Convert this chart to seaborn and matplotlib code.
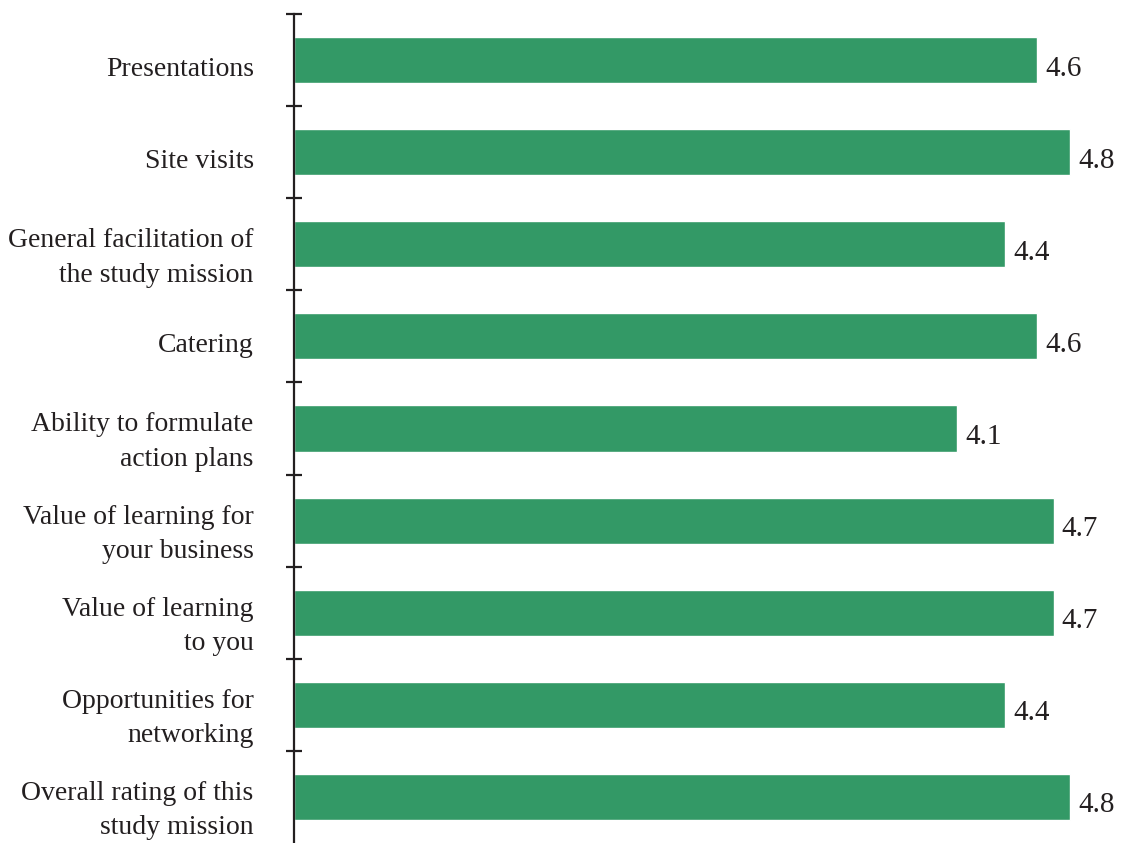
import matplotlib
matplotlib.use("Agg")
import matplotlib.pyplot as plt
import matplotlib.transforms as mtransforms
import seaborn as sns
import pandas as pd
import numpy as np

categories = [
    "Presentations",
    "Site visits",
    "General facilitation of\nthe study mission",
    "Catering",
    "Ability to formulate\naction plans",
    "Value of learning for\nyour business",
    "Value of learning\nto you",
    "Opportunities for\nnetworking",
    "Overall rating of this\nstudy mission",
]
values = [4.6, 4.8, 4.4, 4.6, 4.1, 4.7, 4.7, 4.4, 4.8]
value_labels = ["4.6", "4.8", "4.4", "4.6", "4.1", "4.7", "4.7", "4.4", "4.8"]

sns.set_style("white")
plt.rcParams["font.family"] = ["Liberation Serif", "DejaVu Serif"]

df = pd.DataFrame({"category": categories, "value": values})

fig = plt.figure(figsize=(11.23, 8.43), dpi=100)
ax = fig.add_axes([294 / 1123, 0.0, 1 - 294 / 1123, 1 - 14 / 843])

sns.barplot(data=df, y="category", x="value", orient="h", color="#339966",
            saturation=1, width=0.5, ax=ax)

ax.set_xlim(0, 5.13)
ax.set_ylim(len(categories) - 0.5, -0.5)
ax.set_xlabel("")
ax.set_ylabel("")
ax.set_xticks([])

for s in ["top", "right", "bottom"]:
    ax.spines[s].set_visible(False)
ax.spines["left"].set_color("#231f20")
ax.spines["left"].set_linewidth(1.6)

shift = mtransforms.ScaledTranslation(0, -6 / 100, fig.dpi_scale_trans)

ax.set_yticks(range(len(categories)))
ax.set_yticklabels(categories, fontsize=20, color="#231f20", linespacing=1.5)
ax.set_yticks(np.arange(-0.5, len(categories) - 1, 1.0), minor=True)
ax.tick_params(axis="y", which="major", length=0, pad=29)
ax.tick_params(axis="y", which="minor", direction="inout", length=12,
               width=1.6, color="#231f20", left=True)
for tick in ax.yaxis.get_major_ticks():
    lbl = tick.label1
    lbl.set_verticalalignment("center_baseline")
    lbl.set_transform(lbl.get_transform() + shift)

for i, (v, lab) in enumerate(zip(values, value_labels)):
    ax.annotate(lab, xy=(v, i), xytext=(6, -4), textcoords="offset points",
                ha="left", va="center_baseline", fontsize=21, color="#231f20")

fig.savefig("out.png", dpi=100)
